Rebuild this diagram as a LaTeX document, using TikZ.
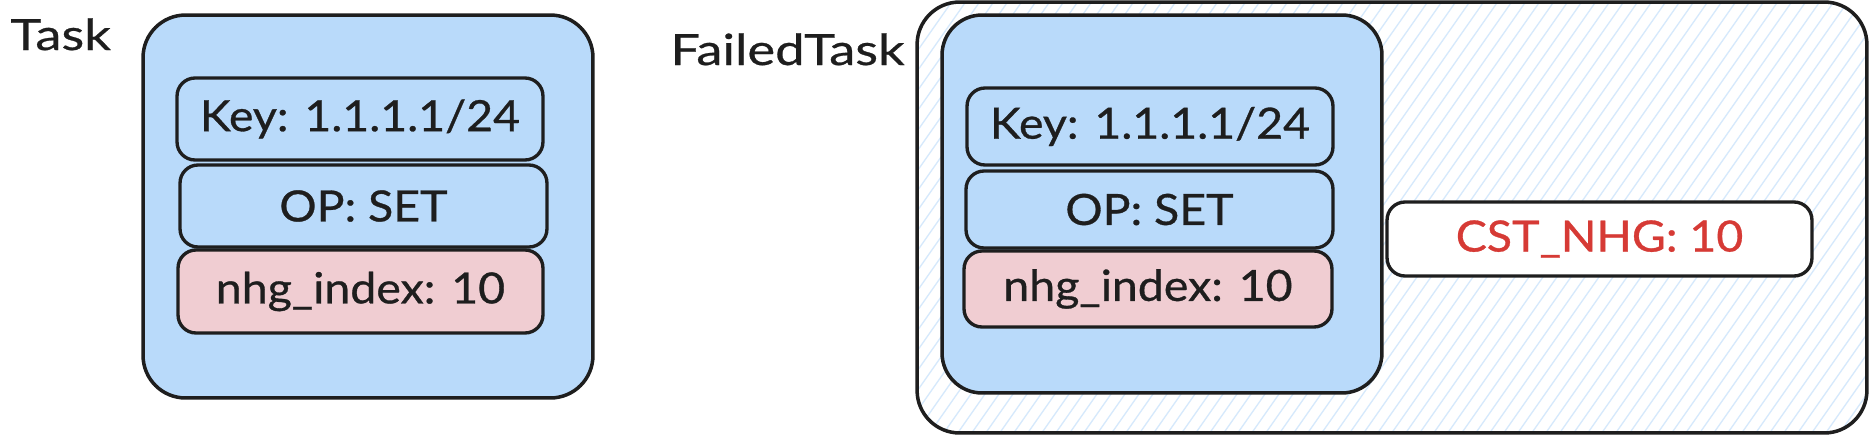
\documentclass[tikz,border=0pt]{standalone}
\usepackage{fontspec}
\setmainfont{Lato}
\newfontfamily\handfont{Lato}[FakeStretch=1.08,FakeBold=0.7]
\newfontfamily\labelfont{Lato}[FakeStretch=1.22,FakeBold=0.6]
\definecolor{ink}{HTML}{1E1E1E}
\definecolor{boxblue}{HTML}{B9DAFA}
\definecolor{boxpink}{HTML}{F0CDD2}
\definecolor{hatchblue}{HTML}{D6E9FC}
\definecolor{errred}{HTML}{D63A35}
\tikzset{
  field/.style={draw=ink, line width=1.9pt, rounded corners=0.36cm, inner sep=0pt,
    text=ink, font=\handfont\fontsize{24.5}{28}\selectfont},
  bluefield/.style={field, fill=boxblue},
  pinkfield/.style={field, fill=boxpink},
  container/.style={draw=ink, line width=2pt, rounded corners=0.85cm, inner sep=0pt},
  caption/.style={text=ink, font=\labelfont\fontsize{24.5}{30}\selectfont, inner sep=0pt},
  hatchline/.style={draw=hatchblue, line width=0.75pt}
}
\begin{document}
\begin{tikzpicture}[x=0.02cm,y=-0.02cm]
\useasboundingbox[fill=white] (0,0) rectangle (1870,444);

% ---- Task ----
\node[caption, anchor=base west] (tasklbl) at (10,50) {Task};
\node[container, fill=boxblue, minimum width=9.0cm, minimum height=7.66cm] (task) at (368,206.5) {};
\node[bluefield, minimum width=7.32cm, minimum height=1.64cm] (key1) at (360,119) {Key: 1.1.1.1/24};
\node[bluefield, minimum width=7.34cm, minimum height=1.64cm] (op1) at (363.5,206) {OP: SET};
\node[pinkfield, minimum width=7.30cm, minimum height=1.66cm] (nhg1) at (360.5,291.5) {nhg\_index: 10};

% ---- FailedTask ----
\node[caption, anchor=base east] (failedlbl) at (905,65) {FailedTask};
\begin{scope}
  \clip[rounded corners=0.85cm] (917,2) rectangle (1867,433);
  \foreach \x in {600,614,...,1870} {
    \draw[hatchline] (\x,444) -- ++(311,-444);
  }
\end{scope}
\node[container, minimum width=19.0cm, minimum height=8.62cm] (failed) at (1392,217.5) {};
\node[container, fill=boxblue, minimum width=8.8cm, minimum height=7.56cm, rounded corners=0.8cm] (inner) at (1162,204) {};
\node[bluefield, minimum width=7.32cm, minimum height=1.54cm] (key2) at (1150,126.5) {Key: 1.1.1.1/24};
\node[bluefield, minimum width=7.34cm, minimum height=1.54cm] (op2) at (1149.5,209.5) {OP: SET};
\node[pinkfield, minimum width=7.36cm, minimum height=1.52cm] (nhg2) at (1148,289) {nhg\_index: 10};
\node[field, fill=white, text=errred, minimum width=8.5cm, minimum height=1.48cm] (cst) at (1599.5,239) {CST\_NHG: 10};
\end{tikzpicture}
\end{document}
